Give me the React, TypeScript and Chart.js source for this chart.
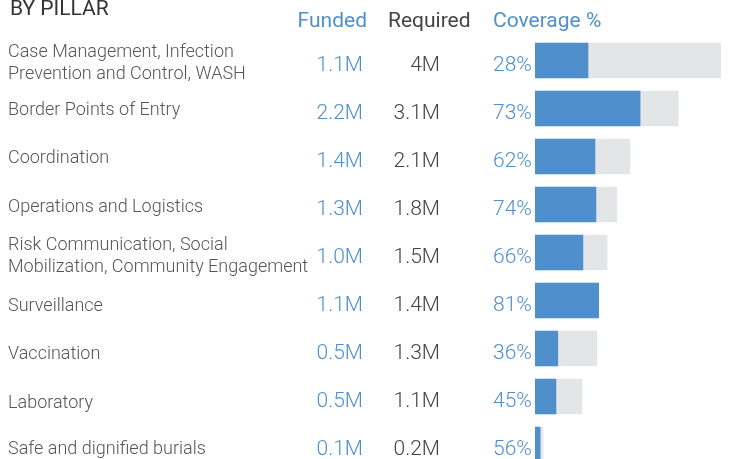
import React, { useEffect, useRef } from "react";
import { Chart, registerables } from "chart.js";

Chart.register(...registerables);

const categories: string[][] = [
  ["Case Management, Infection", "Prevention and Control, WASH"],
  ["Border Points of Entry"],
  ["Coordination"],
  ["Operations and Logistics"],
  ["Risk Communication, Social", "Mobilization, Community Engagement"],
  ["Surveillance"],
  ["Vaccination"],
  ["Laboratory"],
  ["Safe and dignified burials"],
];

// bar lengths (millions)
const funded = [1.14, 2.26, 1.29, 1.31, 1.03, 1.37, 0.49, 0.45, 0.11];
const required = [4.0, 3.08, 2.04, 1.76, 1.55, 1.37, 1.33, 1.01, 0.17];

// displayed figures
const fundedLabels = ["1.1M", "2.2M", "1.4M", "1.3M", "1.0M", "1.1M", "0.5M", "0.5M", "0.1M"];
const requiredLabels = ["4M", "3.1M", "2.1M", "1.8M", "1.5M", "1.4M", "1.3M", "1.1M", "0.2M"];
const coverage = [28, 73, 62, 74, 66, 81, 36, 45, 56];

const BLUE = "#4f8fcb";
const TEXT_BLUE = "#4f8fcb";
const GREY = "#e4e5e7";

// vertical nudge of the category label text within each row (layout only)
const LABEL_NUDGE = [0.5, 1, 1, 2, 1.5, 5.5, 5, 6, 4];

const textPlugin = {
  id: "pillarText",
  afterDraw(chart: any) {
    const ctx = chart.ctx as CanvasRenderingContext2D;
    const yScale = chart.scales.y;
    ctx.save();
    ctx.textBaseline = "alphabetic";

    // title and headers
    ctx.fillStyle = "#333333";
    ctx.textAlign = "left";
    ctx.font = "400 21px Roboto";
    ctx.fillText("BY PILLAR", 10, 15);

    ctx.fillStyle = TEXT_BLUE;
    ctx.textAlign = "right";
    ctx.fillText("Funded", 367, 27);
    ctx.fillStyle = "#444444";
    ctx.textAlign = "left";
    ctx.fillText("Required", 388, 27);
    ctx.fillStyle = TEXT_BLUE;
    ctx.fillText("Coverage %", 493, 27);

    categories.forEach((lines, i) => {
      const cy = yScale.getPixelForValue(i);
      const ly = cy + LABEL_NUDGE[i];
      // category label
      ctx.font = "300 18px Roboto";
      ctx.fillStyle = "#555555";
      ctx.textAlign = "left";
      if (lines.length === 1) {
        ctx.fillText(lines[0], 8, ly + 5);
      } else {
        ctx.fillText(lines[0], 8, ly - 11 + 6.5);
        ctx.fillText(lines[1], 8, ly + 11 + 6.5);
      }
      // numbers
      ctx.font = "300 21px Roboto";
      ctx.fillStyle = TEXT_BLUE;
      ctx.textAlign = "right";
      ctx.fillText(fundedLabels[i], 363, cy + 10.5);
      ctx.fillStyle = "#444444";
      ctx.fillText(requiredLabels[i], 440, cy + 10.5);
      ctx.fillStyle = TEXT_BLUE;
      ctx.textAlign = "left";
      ctx.fillText(coverage[i] + "%", 493, cy + 10.5);
    });
    ctx.restore();
  },
};

export default function App() {
  const canvasRef = useRef<HTMLCanvasElement | null>(null);

  useEffect(() => {
    if (!canvasRef.current) return;
    const chart = new Chart(canvasRef.current, {
      type: "bar",
      data: {
        labels: categories.map((c) => c.join(" ")),
        datasets: [
          {
            label: "Funded",
            data: funded,
            backgroundColor: BLUE,
            barThickness: 35,
            grouped: false,
            order: 0,
          } as any,
          {
            label: "Required",
            data: required,
            backgroundColor: GREY,
            barThickness: 35,
            grouped: false,
            order: 1,
          } as any,
        ],
      },
      options: {
        indexAxis: "y",
        responsive: false,
        animation: false,
        layout: { padding: { left: 535, right: 8, top: 36.5, bottom: 1.5 } },
        scales: {
          x: { type: "linear", min: 0, max: 4.0, display: false },
          y: { type: "category", display: false, offset: true },
        },
        plugins: {
          legend: { display: false },
          tooltip: { enabled: false },
        },
      },
      plugins: [textPlugin],
    });
    return () => chart.destroy();
  }, []);

  return (
    <div
      style={{
        position: "fixed",
        left: 0,
        top: 0,
        width: 729,
        height: 459,
        overflow: "hidden",
        background: "#ffffff",
      }}
    >
      <canvas ref={canvasRef} width={729} height={470} style={{ display: "block" }} />
    </div>
  );
}
